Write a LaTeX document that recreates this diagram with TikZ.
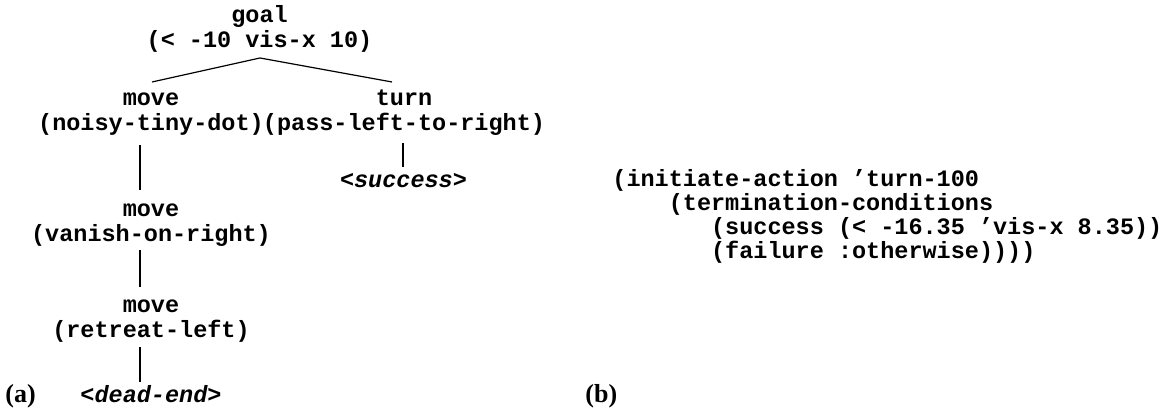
\documentclass[tikz,border=0pt]{standalone}
\usepackage{fontspec}
\setmainfont{Liberation Serif}
\setmonofont{Liberation Mono}
\usetikzlibrary{calc}
\tikzset{
  % multi-line nodes: the base anchor sits on the baseline of the last line
  treenode/.style={font=\fontsize{11.75}{12.5}\selectfont\ttfamily\bfseries,
    inner sep=0pt, align=center, anchor=base},
  leafnode/.style={font=\fontsize{11.75}{12.5}\selectfont\ttfamily\bfseries\itshape,
    inner sep=0pt, anchor=base},
  codeblock/.style={font=\fontsize{11.75}{10}\selectfont\ttfamily\bfseries,
    inner sep=0pt, align=left, anchor=base west},
  panel/.style={font=\fontsize{13}{15}\selectfont\bfseries, inner sep=0pt, anchor=base west},
  branch/.style={line width=0.6pt}
}
\begin{document}
\begin{tikzpicture}[x=0.5pt,y=-0.5pt]
\useasboundingbox (0,0) rectangle (1170,416);

% (a) decision tree
\node[treenode] (goal)  at (259.5,48) {goal\\(< -10 vis-x 10)};
\node[treenode] (move1) at (151,131)  {move\\(noisy-tiny-dot)};
\node[treenode] (turn)  at (404,131)  {turn\\(pass-left-to-right)};
\node[leafnode] (succ)  at (403.5,188) {<success>};
\node[treenode] (move2) at (151,242)  {move\\(vanish-on-right)};
\node[treenode] (move3) at (151,337)  {move\\(retreat-left)};
\node[leafnode] (dead)  at (151,402)  {<dead-end>};

\coordinate (apex) at ($(goal.base)+(0.5,10)$);
\draw[branch] ($(move1.base)+(1,-49)$) -- (apex) -- ($(turn.base)+(-12,-49)$);
\draw[branch] ($(move1.base)+(-11,14)$) -- ($(move2.base)+(-11,-52)$);
\draw[branch] ($(move2.base)+(-11,8)$) -- ($(move3.base)+(-11,-50)$);
\draw[branch] ($(move3.base)+(-11,10)$) -- ($(dead.base)+(-11,-20)$);
\draw[branch] ($(turn.base)+(-1,12)$) -- ($(succ.base)+(-0.5,-21)$);

% (b) action specification
\node[codeblock] (action) at (612,259) {%
(initiate-action ’turn-100\\
\phantom{0000}(termination-conditions\\
\phantom{0000000}(success (< -16.35 ’vis-x 8.35))\\
\phantom{0000000}(failure :otherwise))))};

% panel labels
\node[panel] (lbla) at (5,402)   {(a)};
\node[panel] (lblb) at (585,402) {(b)};
\end{tikzpicture}
\end{document}
